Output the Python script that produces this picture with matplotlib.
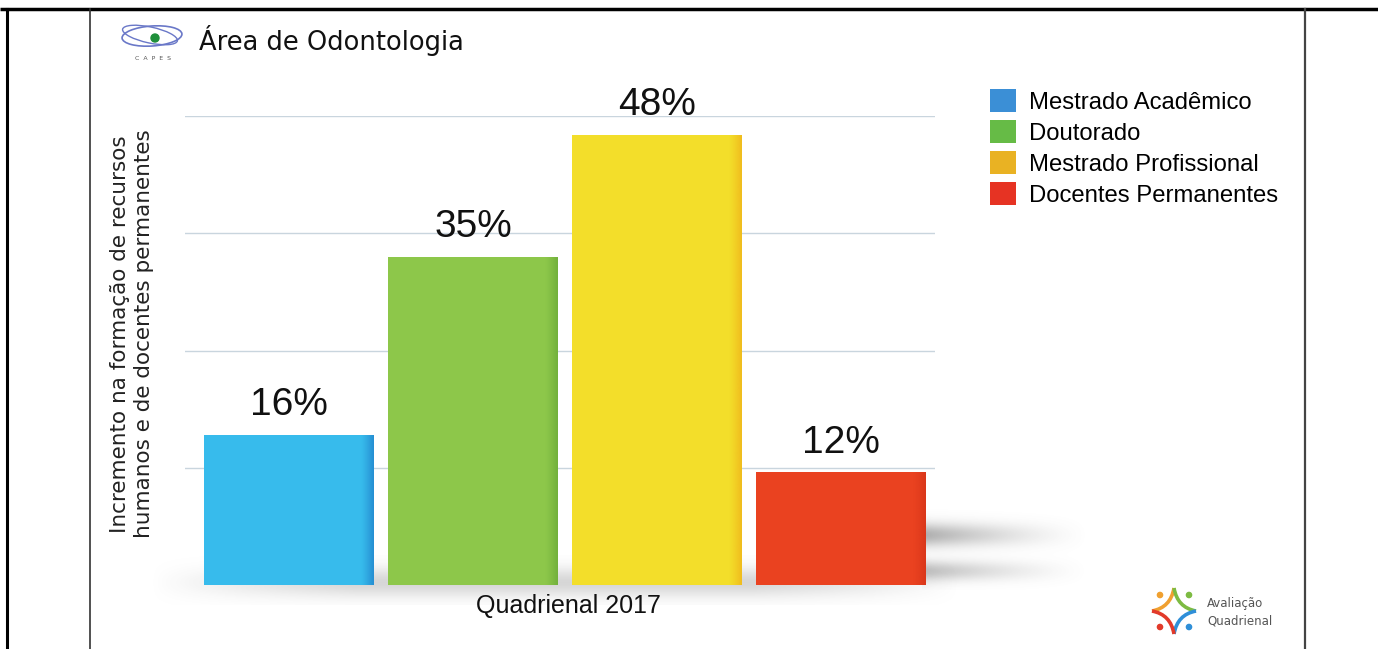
import numpy as np
import matplotlib.pyplot as plt
from matplotlib.patches import Patch, Ellipse, Circle, PathPatch
from matplotlib.path import Path
from matplotlib.colors import to_rgb

categorias = ['Mestrado Acadêmico', 'Doutorado', 'Mestrado Profissional', 'Docentes Permanentes']
valores = [16, 35, 48, 12]
rotulos = ['16%', '35%', '48%', '12%']
cores_barra = ['#37bbec', '#8dc74a', '#f3de2a', '#ea4220']
cores_borda = ['#2489cf', '#6fae3a', '#f0b81c', '#d8361a']
cores_legenda = ['#3b8fd6', '#66bb46', '#e9b223', '#e63323']
grade = [12.5, 25, 37.5, 50]

W, H = 1378, 649
fig = plt.figure(figsize=(W / 100, H / 100), dpi=100)
fig.patch.set_facecolor('white')

# fundo em coordenadas de pixel (bordas, logos, sombras)
bg = fig.add_axes([0, 0, 1, 1])
bg.set_xlim(0, W)
bg.set_ylim(H, 0)
bg.axis('off')
bg.set_zorder(0)

# sombras suaves
yy, xx = np.mgrid[0:1:60j, 0:1:200j]
sombra = (np.exp(-((yy - 0.35) / 0.14) ** 2) + 0.8 * np.exp(-((yy - 0.78) / 0.12) ** 2)) \
    * np.clip(1 - xx, 0, 1) ** 1.4
img = np.zeros((60, 200, 4))
img[..., :3] = 0.42
img[..., 3] = np.clip(sombra, 0, 1) * 0.55
bg.imshow(img, extent=[922, 1090, 590, 505], aspect='auto', interpolation='bilinear', zorder=1)
yy, xx = np.mgrid[0:1:40j, 0:1:300j]
banda = np.exp(-((yy - 0.55) / 0.3) ** 2) * np.clip(np.sin(np.pi * xx) * 1.4, 0, 1)
img2 = np.zeros((40, 300, 4))
img2[..., :3] = 0.55
img2[..., 3] = banda * 0.35
bg.imshow(img2, extent=[150, 960, 605, 555], aspect='auto', interpolation='bilinear', zorder=1)

# bordas da tabela
bg.plot([0, W], [9, 9], color='black', lw=2.5, solid_capstyle='butt')
bg.plot([7, 7], [9, H], color='black', lw=2.2)
bg.plot([90, 90], [9, H], color='#333333', lw=1.2)
bg.plot([1305, 1305], [9, H], color='#444444', lw=1.6)

# logo CAPES
bg.add_patch(Ellipse((152, 36), 60, 20, angle=-4, fill=False, ec='#6a78c8', lw=1.2))
bg.add_patch(Ellipse((150, 35), 56, 16, angle=12, fill=False, ec='#6a78c8', lw=1.0))
bg.add_patch(Circle((155, 38), 4, color='#1f8f3a'))
bg.text(153, 59, 'C  A  P  E  S', fontsize=4.5, color='#555555', ha='center', va='center')
bg.text(199, 40, 'Área de Odontologia', fontsize=18.5, color='#111111',
        family='DejaVu Sans', ha='left', va='center')

# logo Avaliação Quadrienal
cx, cy = 1174, 611
pontas = [(1152, 611), (1174, 588), (1196, 611), (1174, 634)]
cores_estrela = ['#f0a030', '#7dbb42', '#2f8fd8', '#e23a2a']
for i in range(4):
    a = pontas[i]
    b = pontas[(i + 1) % 4]
    ctrl = (cx + 0.15 * (a[0] + b[0] - 2 * cx), cy + 0.15 * (a[1] + b[1] - 2 * cy))
    p = Path([a, ctrl, b], [Path.MOVETO, Path.CURVE3, Path.CURVE3])
    bg.add_patch(PathPatch(p, fill=False, ec=cores_estrela[i], lw=2.6))
for (px, py), c in zip([(1160, 595), (1189, 595), (1189, 627), (1160, 627)],
                       ['#f0a030', '#7dbb42', '#2f8fd8', '#e23a2a']):
    bg.add_patch(Circle((px, py), 2.6, color=c))
bg.text(1207, 604, 'Avaliação', fontsize=8.5, color='#555555', ha='left', va='center')
bg.text(1207, 621, 'Quadrienal', fontsize=8.5, color='#555555', ha='left', va='center')

# grafico principal
ax = fig.add_axes([185 / W, (H - 585) / H, 750 / W, (585 - 116) / H])
ax.set_zorder(2)
ax.patch.set_alpha(0)
x = np.arange(len(valores))
barras = ax.bar(x, valores, width=0.92, color=cores_barra, edgecolor='none', zorder=3)

# borda direita um pouco mais escura (efeito 3D)
grad = np.linspace(0, 1, 100)
alfa = np.clip((grad - 0.93) / 0.07, 0, 1) ** 1.2 * 0.85
for b, cb in zip(barras, cores_borda):
    faixa = np.zeros((1, 100, 4))
    faixa[..., :3] = to_rgb(cb)
    faixa[..., 3] = alfa
    im = ax.imshow(faixa, extent=[b.get_x(), b.get_x() + b.get_width(), 0, b.get_height()],
                   aspect='auto', interpolation='bilinear', zorder=4)
    im.set_clip_path(b)

ax.set_xlim(-0.565, 3.51)
ax.set_ylim(0, 50)
ax.set_yticks(grade)
ax.grid(axis='y', color='#c9d5de', lw=1.0, zorder=0)
ax.tick_params(left=False, bottom=False, labelleft=False, labelbottom=False)
for s in ax.spines.values():
    s.set_visible(False)

for xi, v, r in zip(x, valores, rotulos):
    ax.annotate(r, (xi, v), xytext=(0, 14), textcoords='offset points',
                ha='center', va='baseline', fontsize=28, family='Liberation Sans',
                color='#111111', annotation_clip=False)

fig.text(568 / W, 1 - 606 / H, 'Quadrienal 2017', fontsize=18, family='Liberation Sans',
         color='#111111', ha='center', va='center')

fig.text(132 / W, 1 - 334 / H,
         'Incremento na formação de recursos\nhumanos e de docentes permanentes',
         rotation=90, fontsize=15.5, family='DejaVu Sans', color='#222222',
         ha='center', va='center', linespacing=1.3)

handles = [Patch(facecolor=c, edgecolor='none') for c in cores_legenda]
ax.legend(handles, categorias, loc='upper left', bbox_to_anchor=(990 / W, 1 - 89 / H),
          bbox_transform=fig.transFigure, frameon=False,
          prop={'family': 'Liberation Sans', 'size': 17.2},
          handlelength=1.1, handleheight=1.1, handletextpad=0.55,
          labelspacing=0.27, borderaxespad=0, borderpad=0)

fig.savefig('out.png', dpi=100)
